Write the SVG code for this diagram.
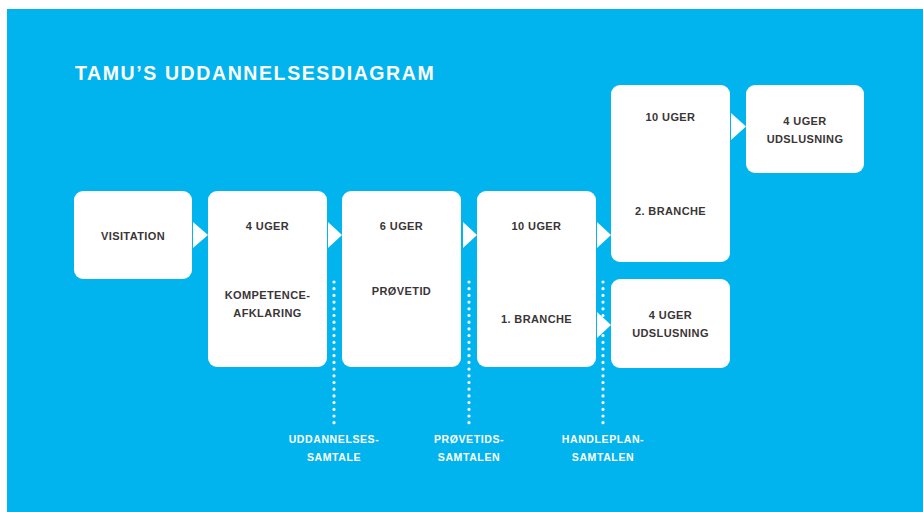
<svg xmlns="http://www.w3.org/2000/svg" width="923" height="512" viewBox="0 0 923 512">
<style>
.box{fill:#ffffff}
.t{font-family:"Liberation Sans",Arial,sans-serif;font-weight:bold;font-size:11px;letter-spacing:0.4px;fill:#3a3536;text-anchor:middle}
.lbl{font-family:"Liberation Sans",Arial,sans-serif;font-weight:bold;font-size:10.5px;letter-spacing:0.6px;fill:#ffffff;text-anchor:middle}
.title{font-family:"Liberation Sans",Arial,sans-serif;font-weight:bold;font-size:19.5px;letter-spacing:1.6px;fill:#ffffff}
.arr{fill:#ffffff}
.dot{stroke:#ffffff;stroke-width:3.2;stroke-linecap:round;stroke-dasharray:0 6.7;fill:none}
</style>
<rect x="0" y="0" width="923" height="512" fill="#ffffff"/>
<rect x="7" y="9" width="916" height="503" fill="#02b4ee"/>
<text class="title" x="75" y="80">TAMU’S UDDANNELSESDIAGRAM</text>
<g id="connectors">
<polygon class="arr" points="193,222 208,235 193,248"/>
<polygon class="arr" points="328,222 342,235 328,248"/>
<polygon class="arr" points="463,222 477,235 463,248"/>
<polygon class="arr" points="597,222 611,235 597,248"/>
<polygon class="arr" points="597,312 611,325 597,338"/>
<polygon class="arr" points="731,113 746,126.5 731,140"/>
<line class="dot" x1="334" y1="282" x2="334" y2="427"/>
<line class="dot" x1="469" y1="282" x2="469" y2="427"/>
<line class="dot" x1="603" y1="282" x2="603" y2="427"/>
</g>
<g id="visitation">
<rect class="box" x="74" y="191" width="118" height="88" rx="9"/>
<text class="t" x="133" y="240">VISITATION</text>
</g>
<g id="kompetenceafklaring">
<rect class="box" x="208" y="191" width="119" height="176" rx="9"/>
<text class="t" x="267.5" y="230">4 UGER</text>
<text class="t" x="267.5" y="299">KOMPETENCE-</text>
<text class="t" x="267.5" y="317">AFKLARING</text>
</g>
<g id="proevetid">
<rect class="box" x="342" y="191" width="119" height="176" rx="9"/>
<text class="t" x="401.5" y="230">6 UGER</text>
<text class="t" x="401.5" y="295">PRØVETID</text>
</g>
<g id="branche1">
<rect class="box" x="477" y="191" width="119" height="176" rx="9"/>
<text class="t" x="536.5" y="230">10 UGER</text>
<text class="t" x="536.5" y="323">1. BRANCHE</text>
</g>
<g id="branche2">
<rect class="box" x="611" y="85" width="119" height="177" rx="9"/>
<text class="t" x="670.5" y="121">10 UGER</text>
<text class="t" x="670.5" y="215">2. BRANCHE</text>
</g>
<g id="udslusning-top">
<rect class="box" x="746" y="85" width="118" height="88" rx="9"/>
<text class="t" x="805" y="125">4 UGER</text>
<text class="t" x="805" y="143">UDSLUSNING</text>
</g>
<g id="udslusning-bottom">
<rect class="box" x="611" y="279" width="119" height="89" rx="9"/>
<text class="t" x="670.5" y="319">4 UGER</text>
<text class="t" x="670.5" y="337">UDSLUSNING</text>
</g>
<g id="labels">
<text class="lbl" x="334" y="443">UDDANNELSES-</text>
<text class="lbl" x="334" y="461">SAMTALE</text>
<text class="lbl" x="469" y="443">PRØVETIDS-</text>
<text class="lbl" x="469" y="461">SAMTALEN</text>
<text class="lbl" x="603" y="443">HANDLEPLAN-</text>
<text class="lbl" x="603" y="461">SAMTALEN</text>
</g>
</svg>
